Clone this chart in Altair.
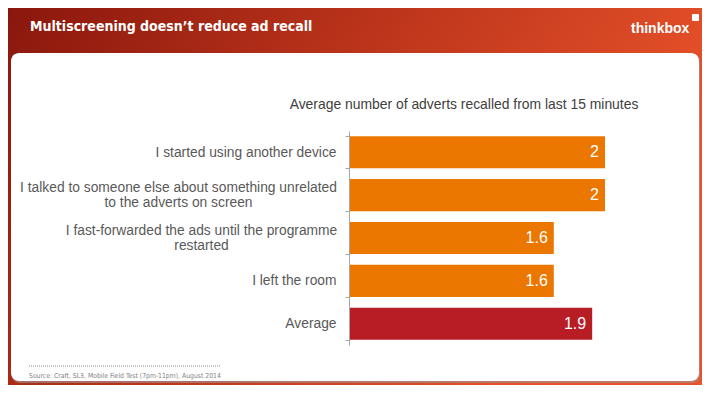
import altair as alt
import pandas as pd

# ---- data ----
categories = [
    "I started using another device",
    "I talked to someone else about something unrelated|to the adverts on screen",
    "I fast-forwarded the ads until the programme|restarted",
    "I left the room",
    "Average",
]
values = [2, 2, 1.6, 1.6, 1.9]
bar_colors = ["#EC7700", "#EC7700", "#EC7700", "#EC7700", "#B81C24"]

title_text = "Multiscreening doesn\u2019t reduce ad recall"
subtitle_text = "Average number of adverts recalled from last 15 minutes"
source_text = "Source: Craft, SL3, Mobile Field Test (7pm-11pm), August 2014"
logo_text = "thinkbox"

df = pd.DataFrame({"cat": categories, "val": values, "color": bar_colors})
one = pd.DataFrame({"a": [0]})

# plot area origin sits at page (349,131); chart origin at page (8,8)
PX, PY = 349, 131
PL, PT = PX - 8, PY - 8
W, H = 256, 214
TOTW, TOTH = 694, 377

NARROW = "DejaVu Sans Condensed, Roboto Condensed, Liberation Sans Narrow, Roboto"


def px(v):
    return alt.value(v - PX)


def py(v):
    return alt.value(v - PY)


grad = alt.Gradient(
    gradient="linear",
    stops=[alt.GradientStop(color="#8A170D", offset=0),
           alt.GradientStop(color="#B8321A", offset=0.45),
           alt.GradientStop(color="#E9532A", offset=1)],
    x1=0, y1=0, x2=1, y2=0.35,
)

bg = alt.Chart(one).mark_rect(fill=grad).encode(
    x=px(8), x2=px(8 + TOTW), y=py(8), y2=py(8 + TOTH),
)
shadow = alt.Chart(one).mark_rect(fill="#9A9A9A", cornerRadius=8, opacity=0.6).encode(
    x=px(12), x2=px(700), y=py(54), y2=py(383),
)
panel = alt.Chart(one).mark_rect(fill="white", cornerRadius=8).encode(
    x=px(11), x2=px(699), y=py(53), y2=py(381),
)
title = alt.Chart(one).mark_text(
    text=title_text, align="left", baseline="middle", font=NARROW,
    fontWeight="bold", fontSize=14, color="white",
).encode(x=px(30), y=py(27))
logo = alt.Chart(one).mark_text(
    text=logo_text, align="left", baseline="alphabetic", font="Liberation Sans",
    fontWeight="bold", fontSize=14, color="white",
).encode(x=px(631), y=py(33))
logo_sq = alt.Chart(one).mark_rect(fill="white", cornerRadius=1).encode(
    x=px(692), x2=px(699), y=py(14), y2=py(21),
)
subtitle = alt.Chart(one).mark_text(
    text=subtitle_text, align="center", baseline="middle", font="Liberation Sans",
    fontSize=13.9, color="#404040",
).encode(x=px(464), y=py(105))
src_rule = alt.Chart(one).mark_rule(color="#8C8C8C", strokeDash=[1, 1], strokeWidth=1).encode(
    x=px(29), x2=px(220), y=py(366),
)
source = alt.Chart(one).mark_text(
    text=source_text, align="left", baseline="middle", font=NARROW,
    fontSize=6.8, color="#7F7F7F",
).encode(x=px(29), y=py(376))

multi = "indexof(datum.label, '|') >= 0"
yenc = alt.Y(
    "cat:N", sort=None,
    scale=alt.Scale(paddingInner=0.25, paddingOuter=0.12),
    axis=alt.Axis(
        title=None, domainColor="#A6A6A6", tickColor="#A6A6A6", tickSize=4,
        tickBand="extent", labelColor="#595959", labelFontSize=13.8,
        labelFont="Liberation Sans", labelLineHeight=15,
        labelExpr="split(datum.label, '|')", labelLimit=400, grid=False,
        labelAlign={"condition": {"test": multi, "value": "center"}, "value": "right"},
        labelOffset={"condition": {"test": multi, "value": -7.5}, "value": 0},
        labelPadding={
            "condition": [
                {"test": "indexof(datum.label, 'talked') >= 0", "value": 167},
                {"test": "indexof(datum.label, 'fast') >= 0", "value": 144},
            ],
            "value": 9,
        },
        zindex=2,
    ),
)
xenc = alt.X("val:Q", scale=alt.Scale(domain=[0, 2], nice=False), axis=None)

bars = alt.Chart(df).mark_bar().encode(
    y=yenc, x=xenc, color=alt.Color("color:N", scale=None),
)
labels = alt.Chart(df).mark_text(
    align="right", baseline="middle", dx=-6, font="Liberation Sans",
    fontSize=16, color="white",
).encode(y=yenc, x=xenc, text=alt.Text("val:Q", format="~g"))

chart = alt.layer(
    bg, shadow, panel, title, logo, logo_sq, subtitle, src_rule, source, bars, labels
).properties(
    width=W, height=H,
    padding={"left": PL, "top": PT, "right": TOTW - PL - W, "bottom": TOTH - PT - H},
    autosize=alt.AutoSizeParams(type="none"),
).configure_view(stroke=None)

chart.save("out.html", embed_options={"renderer": "svg", "actions": False})
